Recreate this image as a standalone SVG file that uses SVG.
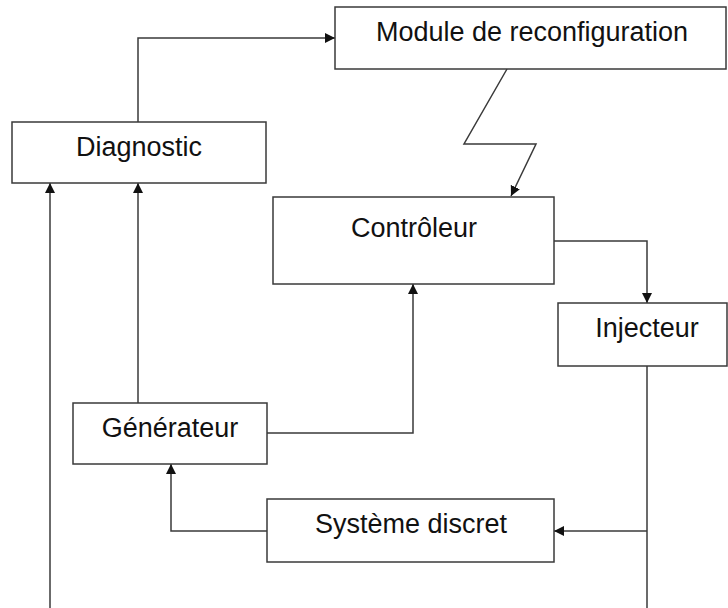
<svg xmlns="http://www.w3.org/2000/svg" width="728" height="608" viewBox="0 0 728 608">
  <style>
    .box { fill: #ffffff; stroke: #3a3a3a; stroke-width: 1.5; }
    .lbl { font-family: "Liberation Sans", Arial, sans-serif; font-size: 27px; fill: #111111; text-anchor: middle; }
    .wire { fill: none; stroke: #3a3a3a; stroke-width: 1.5; }
  </style>
  <defs>
    <marker id="arrow" viewBox="0 0 10 10" refX="10" refY="5" markerWidth="10" markerHeight="10" markerUnits="userSpaceOnUse" orient="auto">
      <path d="M0,0 L10,5 L0,10 z" fill="#111111"/>
    </marker>
  </defs>

  <rect x="0" y="0" width="728" height="608" fill="#ffffff"/>

  <!-- connectors -->
  <g id="connectors">
    <path class="wire" d="M138,122 V38 H335" marker-end="url(#arrow)"/>
    <path class="wire" d="M507,69 L464,144 H536 L511,196" marker-end="url(#arrow)"/>
    <path class="wire" d="M554,241 H647 V303" marker-end="url(#arrow)"/>
    <path class="wire" d="M267,433 H413 V284" marker-end="url(#arrow)"/>
    <path class="wire" d="M138,403 V183" marker-end="url(#arrow)"/>
    <path class="wire" d="M50,608 V183" marker-end="url(#arrow)"/>
    <path class="wire" d="M647,366 V608"/>
    <path class="wire" d="M647,531 H554" marker-end="url(#arrow)"/>
    <path class="wire" d="M267,531 H171 V464" marker-end="url(#arrow)"/>
  </g>

  <!-- nodes -->
  <g id="module">
    <rect class="box" x="335" y="7" width="391" height="62"/>
    <text class="lbl" x="532" y="41">Module de reconfiguration</text>
  </g>
  <g id="diagnostic">
    <rect class="box" x="12" y="122" width="254" height="61"/>
    <text class="lbl" x="139" y="156">Diagnostic</text>
  </g>
  <g id="controleur">
    <rect class="box" x="273" y="197" width="281" height="87"/>
    <text class="lbl" x="414" y="237">Contrôleur</text>
  </g>
  <g id="injecteur">
    <rect class="box" x="558" y="303" width="169" height="63"/>
    <text class="lbl" x="647" y="337">Injecteur</text>
  </g>
  <g id="generateur">
    <rect class="box" x="73" y="403" width="194" height="61"/>
    <text class="lbl" x="170" y="437">Générateur</text>
  </g>
  <g id="systeme">
    <rect class="box" x="267" y="499" width="287" height="63"/>
    <text class="lbl" x="411" y="533">Système discret</text>
  </g>
</svg>
